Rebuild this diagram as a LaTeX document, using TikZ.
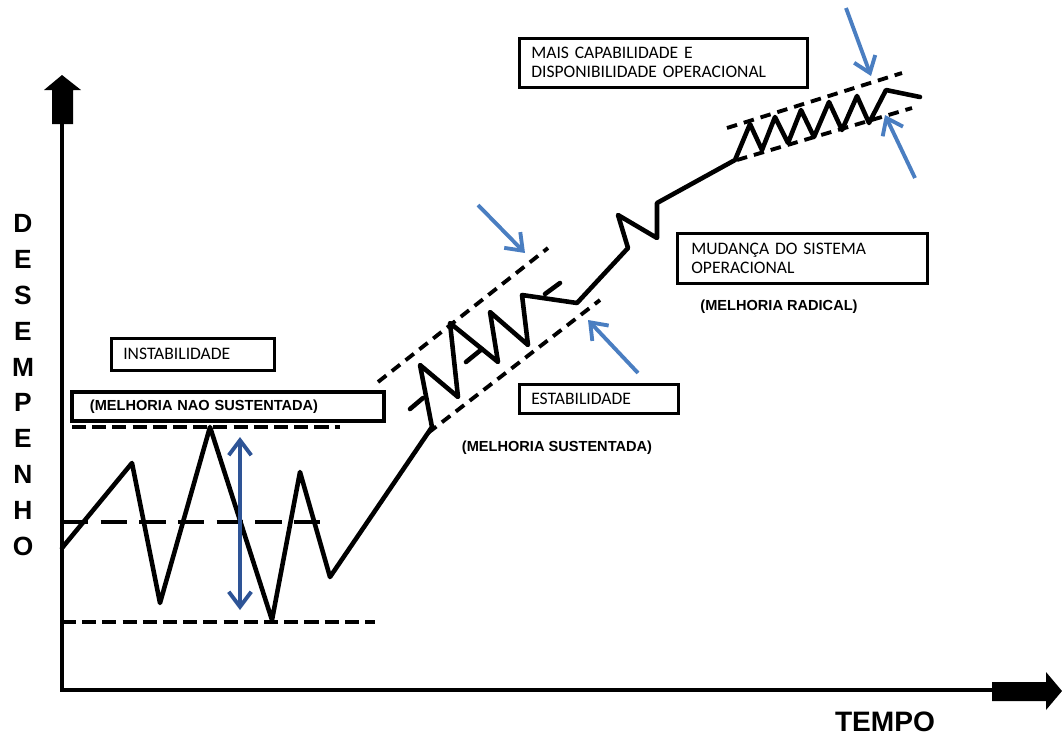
\documentclass[tikz,border=0pt]{standalone}
\usepackage{fontspec}
\setmainfont{Liberation Sans}
\newfontfamily\calib{Carlito}
\usepackage{tikz}
\usetikzlibrary{arrows.meta}
\definecolor{lblue}{RGB}{74,126,193}
\definecolor{dblue}{RGB}{46,84,150}

\begin{document}
\begin{tikzpicture}[x=0.02cm,y=-0.02cm,
 c/.style={draw,line width=1.5pt,anchor=north west,align=left,inner xsep=0.24cm,inner ysep=0pt,font=\calib\fontsize{10}{10.8}\selectfont},
 lb/.style={font=\bfseries\fontsize{8.3}{10}\selectfont},
 ln/.style={line width=2.6pt,line join=round,line cap=round},
 dl/.style={line width=2.2pt,dash pattern=on 8pt off 3.5pt},
 ev/.style={line width=2.2pt,dash pattern=on 6pt off 4pt},
 ar/.style={-{Straight Barb[length=3mm,width=4.5mm]},line width=2.2pt,lblue}]
\useasboundingbox (0,0) rectangle (1062,738);
\coordinate (O) at (62,690);
\draw[line width=1.8pt] (62,100) -- (O) -- (1000,690);
\fill (52,124) -- (52,90) -- (44,90) -- (62,75) -- (81,90) -- (73,90) -- (73,124) -- cycle;
\fill (992,682) -- (1046,682) -- (1046,672) -- (1062,691) -- (1046,710) -- (1046,701) -- (992,701) -- cycle;
\node[font=\bfseries\fontsize{15}{20.4}\selectfont,align=center] (yl) at (23,385) {D\\E\\S\\E\\M\\P\\E\\N\\H\\O};
\node[font=\bfseries\fontsize{16}{18}\selectfont] (xl) at (885,722) {TEMPO};
\draw[dl] (72,427) -- (340,427);
\draw[dl,dash pattern=on 15pt off 7pt] (62,522) -- (330,522);
\draw[dl] (62,622) -- (375,622);
\draw[ev] (378,382) -- (548,248);
\draw[ev] (428,433) -- (600,300);
\draw[ev] (727,128) -- (902,73);
\draw[ev] (737,160) -- (912,108);
\draw[ln] (62,548) -- (132,463) -- (160,603) -- (210,427) -- (272,620) -- (300,472) -- (330,577)
 -- (432,427) -- (420,365) -- (458,397) -- (450,323) -- (498,362) -- (490,312) -- (528,345)
 -- (522,295) -- (577,303) -- (628,248) -- (618,215) -- (657,238) -- (657,203) -- (735,160)
 -- (750,124) -- (762,150) -- (775,117) -- (788,143) -- (801,110) -- (814,137) -- (829,102)
 -- (842,130) -- (857,96) -- (869,123) -- (886,90) -- (920,97);
\draw[ln] (410,409) -- (423,398);
\draw[ln] (466,362) -- (482,349);
\draw[ln] (545,294) -- (560,283);
\coordinate (a1) at (478,205);
\coordinate (a2) at (638,373);
\coordinate (a3) at (846,8);
\coordinate (a4) at (915,178);
\draw[ar] (a1) -- (525,253);
\draw[ar] (a2) -- (588,320);
\draw[ar] (a3) -- (871,76);
\draw[ar] (a4) -- (885,115);
\coordinate (lo) at (240,610);
\coordinate (hi) at (240,437);
\draw[ar,dblue,{Straight Barb[length=3mm,width=4.5mm]}-{Straight Barb[length=3mm,width=4.5mm]}] (lo) -- (hi);
\node[c,text width=2.78cm,minimum height=0.64cm] (inst) at (110,337) {INSTABILIDADE};
\node[c,line width=2.2pt,inner xsep=0.36cm,text width=5.52cm,minimum height=0.58cm,lb] (mns) at (70,390) {(MELHORIA NAO SUSTENTADA)};
\node[c,text width=2.7cm,minimum height=0.58cm] (est) at (518,383) {ESTABILIDADE};
\node[lb] (ms) at (557,448) {(MELHORIA SUSTENTADA)};
\node[c,text width=5.28cm,minimum height=0.98cm] (mais) at (518,37) {MAIS CAPABILIDADE E\\DISPONIBILIDADE OPERACIONAL};
\node[c,inner xsep=0.28cm,text width=4.44cm,minimum height=1.0cm] (mud) at (676,232) {MUDANÇA DO SISTEMA\\OPERACIONAL};
\node[lb] (mr) at (779,307) {(MELHORIA RADICAL)};
\end{tikzpicture}
\end{document}
